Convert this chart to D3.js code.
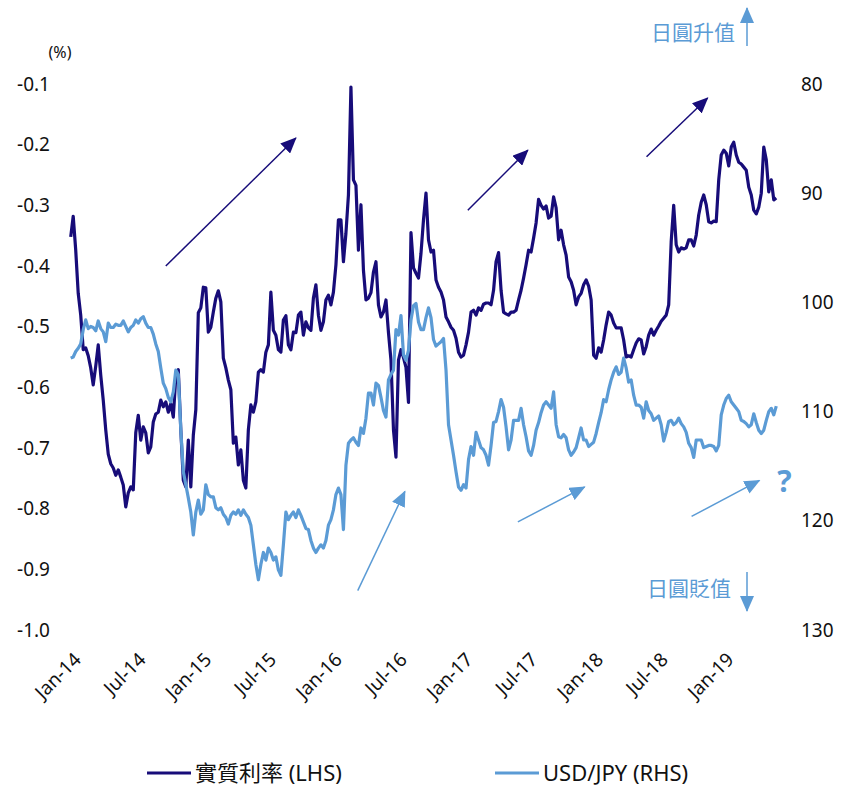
<!DOCTYPE html>
<html>
<head>
<meta charset="utf-8">
<script src="https://cdn.jsdelivr.net/npm/d3@7"></script>
<style>
  html, body { margin: 0; padding: 0; background: #ffffff; }
  svg { display: block; font-family: "Noto Sans", "Noto Sans CJK TC", sans-serif; }
</style>
</head>
<body>
<svg id="chart" width="841" height="786"></svg>
<script>
// Weekly observations (Fridays), first and last week
const firstWeek = "2014-01-03";
const lastWeek = "2019-05-31";

// Real interest rate, % (left axis)
const realRate = [
  -0.352,-0.318,-0.374,-0.445,-0.481,-0.538,-0.535,-0.548,-0.568,-0.596,
  -0.565,-0.530,-0.580,-0.621,-0.670,-0.710,-0.726,-0.733,-0.745,-0.736,
  -0.748,-0.761,-0.797,-0.774,-0.764,-0.769,-0.675,-0.646,-0.687,-0.665,
  -0.675,-0.708,-0.698,-0.657,-0.644,-0.641,-0.621,-0.632,-0.624,-0.641,
  -0.627,-0.649,-0.583,-0.571,-0.670,-0.753,-0.764,-0.687,-0.764,-0.679,
  -0.637,-0.477,-0.469,-0.435,-0.436,-0.509,-0.501,-0.476,-0.453,-0.441,
  -0.459,-0.552,-0.568,-0.588,-0.604,-0.692,-0.682,-0.728,-0.703,-0.753,
  -0.766,-0.670,-0.629,-0.641,-0.624,-0.575,-0.571,-0.575,-0.542,-0.530,
  -0.443,-0.506,-0.514,-0.538,-0.542,-0.489,-0.482,-0.530,-0.538,-0.509,
  -0.510,-0.481,-0.476,-0.514,-0.492,-0.502,-0.506,-0.453,-0.431,-0.481,
  -0.506,-0.492,-0.456,-0.448,-0.464,-0.443,-0.398,-0.324,-0.324,-0.393,
  -0.346,-0.283,-0.105,-0.258,-0.267,-0.374,-0.299,-0.407,-0.456,-0.453,
  -0.444,-0.410,-0.393,-0.464,-0.484,-0.476,-0.456,-0.510,-0.555,-0.670,
  -0.715,-0.555,-0.538,-0.551,-0.567,-0.625,-0.345,-0.403,-0.412,-0.420,
  -0.379,-0.324,-0.280,-0.357,-0.377,-0.374,-0.423,-0.435,-0.443,-0.456,
  -0.484,-0.492,-0.501,-0.506,-0.519,-0.542,-0.550,-0.547,-0.530,-0.509,
  -0.476,-0.473,-0.481,-0.469,-0.473,-0.463,-0.461,-0.461,-0.464,-0.440,
  -0.393,-0.378,-0.440,-0.476,-0.479,-0.481,-0.476,-0.476,-0.473,-0.456,
  -0.440,-0.420,-0.398,-0.374,-0.377,-0.354,-0.329,-0.290,-0.300,-0.306,
  -0.301,-0.321,-0.318,-0.286,-0.304,-0.357,-0.341,-0.365,-0.382,-0.418,
  -0.426,-0.440,-0.464,-0.451,-0.445,-0.431,-0.423,-0.433,-0.456,-0.547,
  -0.552,-0.535,-0.542,-0.522,-0.497,-0.476,-0.481,-0.494,-0.502,-0.502,
  -0.502,-0.522,-0.550,-0.548,-0.550,-0.538,-0.527,-0.520,-0.522,-0.545,
  -0.533,-0.514,-0.504,-0.514,-0.506,-0.499,-0.491,-0.486,-0.481,-0.464,
  -0.360,-0.300,-0.365,-0.377,-0.370,-0.372,-0.370,-0.357,-0.357,-0.367,
  -0.349,-0.316,-0.295,-0.283,-0.299,-0.327,-0.329,-0.326,-0.327,-0.258,
  -0.217,-0.209,-0.214,-0.235,-0.204,-0.196,-0.217,-0.229,-0.232,-0.237,
  -0.242,-0.270,-0.283,-0.308,-0.314,-0.303,-0.280,-0.204,-0.225,-0.278,
  -0.258,-0.291,-0.288
];

// USD/JPY (right axis, inverted)
const usdJpy = [
  105.1,105.0,104.5,104.2,103.8,102.5,101.6,102.4,102.2,102.3,
  102.6,101.7,102.4,102.7,103.6,101.9,102.3,102.3,102.0,102.1,
  102.1,101.7,102.2,102.7,102.3,102.1,101.6,101.9,101.5,101.3,
  101.9,102.3,102.3,102.9,103.8,104.5,106.0,107.4,107.9,108.7,
  109.1,108.2,106.2,106.6,111.7,115.5,116.7,117.9,119.2,121.3,
  119.2,118.1,119.4,119.0,116.7,117.6,117.8,117.8,118.8,119.0,
  118.8,119.4,119.7,120.3,119.5,119.2,119.4,119.0,119.5,119.0,
  119.4,119.7,120.4,122.2,124.0,125.4,124.0,122.9,123.6,122.5,
  122.9,123.6,123.3,124.5,125.0,122.2,119.2,119.9,119.5,119.2,
  119.7,119.0,119.5,120.1,120.7,120.8,121.8,122.5,122.9,122.5,
  122.2,122.5,121.8,120.4,119.9,119.0,117.6,117.0,117.6,120.8,
  114.9,112.9,112.6,112.4,112.8,113.1,111.5,112.0,110.6,108.3,
  108.3,109.4,107.4,107.6,108.7,109.9,110.5,107.1,106.6,106.2,
  102.5,103.0,101.2,104.8,105.3,104.4,101.6,100.3,100.1,101.8,
  102.5,102.5,101.4,100.5,101.4,103.4,104.0,103.8,103.6,103.3,
  106.2,111.2,112.6,114.0,115.5,116.9,117.2,116.7,117.0,114.4,
  113.2,114.0,111.9,112.6,113.3,113.5,114.0,114.9,113.1,111.0,
  110.9,110.0,108.9,109.6,111.4,113.5,112.6,110.8,110.8,110.8,
  109.7,111.2,112.3,113.6,114.0,113.1,111.7,111.0,110.1,109.4,
  109.1,109.4,109.7,108.2,111.2,112.3,112.4,112.1,112.4,113.5,
  114.0,113.7,113.3,112.4,111.5,112.6,112.6,113.2,113.0,112.8,
  112.0,111.0,110.1,108.9,109.1,108.0,107.1,106.4,105.9,106.6,
  106.4,105.1,106.0,107.3,107.1,108.5,109.4,109.4,109.6,110.6,
  109.1,109.9,110.2,110.8,110.6,110.4,111.2,112.7,111.9,110.9,
  110.8,111.2,111.0,110.6,111.1,111.4,111.9,112.9,113.3,114.2,
  112.6,112.6,112.6,113.3,113.2,113.1,113.1,113.2,113.6,113.1,
  110.3,109.4,108.8,108.5,109.1,109.4,109.7,110.0,110.8,110.9,
  111.1,111.4,111.2,110.2,111.0,111.7,112.0,111.7,110.8,110.0,
  109.7,110.3,109.5
];

// Axis ticks
const xTickLabels = ["Jan-14","Jul-14","Jan-15","Jul-15","Jan-16","Jul-16",
                     "Jan-17","Jul-17","Jan-18","Jul-18","Jan-19"];
const leftTicks = [-0.1,-0.2,-0.3,-0.4,-0.5,-0.6,-0.7,-0.8,-0.9,-1.0];
const rightTicks = [80,90,100,110,120,130];

// Trend arrows: [start date, start value, end date, end value]
const rateArrows = [
  ["2014-09-26", -0.400, "2015-09-25", -0.189],
  ["2017-01-18", -0.308, "2017-07-05", -0.209],
  ["2018-06-02", -0.220, "2018-11-20", -0.123]
];
const fxArrows = [
  ["2016-03-16", 126.4, "2016-07-26", 117.3],
  ["2017-06-07", 120.1, "2017-12-11", 116.9],
  ["2018-10-06", 119.6, "2019-04-14", 116.3]
];
const seriesNames = ["實質利率 (LHS)", "USD/JPY (RHS)"];

const NAVY = "#170c79";
const LIGHT = "#5b9bd5";

const parseDay = d3.utcParse("%Y-%m-%d");
const parseTick = d3.utcParse("%b-%y");
const weeks = d3.utcFriday.range(parseDay(firstWeek), d3.utcDay.offset(parseDay(lastWeek), 1));

const rateData = weeks.map((d, i) => ({ date: d, value: realRate[i] }));
const fxData = weeks.map((d, i) => ({ date: d, value: usdJpy[i] }));

const svg = d3.select("#chart");

const x = d3.scaleUtc()
  .domain([parseDay("2014-01-01"), parseDay("2019-06-30")])
  .range([70, 787]);
const yLeft = d3.scaleLinear().domain([-1.0, -0.1]).range([630, 84]);
const yRight = d3.scaleLinear().domain([130, 80]).range([630, 84]);

// Arrow heads
const defs = svg.append("defs");
[["head-navy", NAVY], ["head-light", LIGHT]].forEach(([id, c]) => {
  defs.append("marker")
    .attr("id", id)
    .attr("markerUnits", "userSpaceOnUse")
    .attr("viewBox", "0 0 16 14")
    .attr("markerWidth", 16).attr("markerHeight", 14)
    .attr("refX", 15).attr("refY", 7)
    .attr("orient", "auto")
    .append("path")
    .attr("d", "M0,0 L16,7 L0,14 Z")
    .attr("fill", c);
});

// Left axis
const gLeft = svg.append("g")
  .attr("transform", "translate(50,0)")
  .call(d3.axisLeft(yLeft).tickValues(leftTicks).tickSize(0).tickPadding(0)
    .tickFormat(d => d.toFixed(1)));
// Right axis
const gRight = svg.append("g")
  .attr("transform", "translate(801,0)")
  .call(d3.axisRight(yRight).tickValues(rightTicks).tickSize(0).tickPadding(0));
[gLeft, gRight].forEach(g => {
  g.select(".domain").remove();
  g.selectAll("text").attr("font-size", 19).attr("fill", "#111").attr("font-family", "Noto Sans");
});

// Bottom axis with slanted month labels
const gBottom = svg.append("g")
  .attr("transform", "translate(0,654)")
  .call(d3.axisBottom(x).tickValues(xTickLabels.map(parseTick)).tickSize(0).tickPadding(0)
    .tickFormat(d3.utcFormat("%b-%y")));
gBottom.select(".domain").remove();
gBottom.selectAll("text")
  .attr("font-size", 19)
  .attr("font-family", "Noto Sans")
  .attr("fill", "#111")
  .attr("text-anchor", "end")
  .attr("dy", "0.35em")
  .attr("transform", "translate(7,2) rotate(-45)");

// Unit label
svg.append("text")
  .attr("x", 60).attr("y", 58)
  .attr("text-anchor", "middle")
  .attr("font-size", 16).attr("fill", "#111")
  .text("(%)");

// Series lines
const rateLine = d3.line().x(d => x(d.date)).y(d => yLeft(d.value));
const fxLine = d3.line().x(d => x(d.date)).y(d => yRight(d.value));

svg.append("path")
  .datum(rateData)
  .attr("fill", "none")
  .attr("stroke", NAVY)
  .attr("stroke-width", 3.2)
  .attr("stroke-linejoin", "round")
  .attr("d", rateLine);

svg.append("path")
  .datum(fxData)
  .attr("fill", "none")
  .attr("stroke", LIGHT)
  .attr("stroke-width", 3.2)
  .attr("stroke-linejoin", "round")
  .attr("d", fxLine);

// Trend arrows
svg.append("g").selectAll("line")
  .data(rateArrows).join("line")
  .attr("x1", d => x(parseDay(d[0]))).attr("y1", d => yLeft(d[1]))
  .attr("x2", d => x(parseDay(d[2]))).attr("y2", d => yLeft(d[3]))
  .attr("stroke", NAVY).attr("stroke-width", 1.5)
  .attr("marker-end", "url(#head-navy)");

svg.append("g").selectAll("line")
  .data(fxArrows).join("line")
  .attr("x1", d => x(parseDay(d[0]))).attr("y1", d => yRight(d[1]))
  .attr("x2", d => x(parseDay(d[2]))).attr("y2", d => yRight(d[3]))
  .attr("stroke", LIGHT).attr("stroke-width", 1.5)
  .attr("marker-end", "url(#head-light)");

svg.append("text")
  .attr("x", x(parseDay("2019-06-23"))).attr("y", yRight(116.4))
  .attr("dy", "0.35em")
  .attr("text-anchor", "middle")
  .attr("font-size", 30).attr("font-weight", "bold")
  .attr("fill", LIGHT)
  .text("?");

// Yen direction notes
svg.append("text")
  .attr("x", 735).attr("y", 33).attr("dy", "0.35em")
  .attr("text-anchor", "end")
  .attr("font-family", "Noto Sans CJK TC")
  .attr("font-size", 21).attr("fill", LIGHT)
  .text("日圓升值");
svg.append("line")
  .attr("x1", 747).attr("y1", 46).attr("x2", 747).attr("y2", 8)
  .attr("stroke", LIGHT).attr("stroke-width", 1.5)
  .attr("marker-end", "url(#head-light)");

svg.append("text")
  .attr("x", 731).attr("y", 589).attr("dy", "0.35em")
  .attr("text-anchor", "end")
  .attr("font-family", "Noto Sans CJK TC")
  .attr("font-size", 21).attr("fill", LIGHT)
  .text("日圓貶值");
svg.append("line")
  .attr("x1", 747).attr("y1", 572).attr("x2", 747).attr("y2", 611)
  .attr("stroke", LIGHT).attr("stroke-width", 1.5)
  .attr("marker-end", "url(#head-light)");

// Legend
const legendItems = [
  { name: seriesNames[0], color: NAVY, x: 147 },
  { name: seriesNames[1], color: LIGHT, x: 495 }
];
const legend = svg.append("g");
legendItems.forEach(it => {
  legend.append("line")
    .attr("x1", it.x).attr("x2", it.x + 44)
    .attr("y1", 773).attr("y2", 773)
    .attr("stroke", it.color).attr("stroke-width", 3);
  legend.append("text")
    .attr("x", it.x + 48).attr("y", 781)
    .attr("font-size", 22).attr("fill", "#111")
    .text(it.name);
});
</script>
</body>
</html>
